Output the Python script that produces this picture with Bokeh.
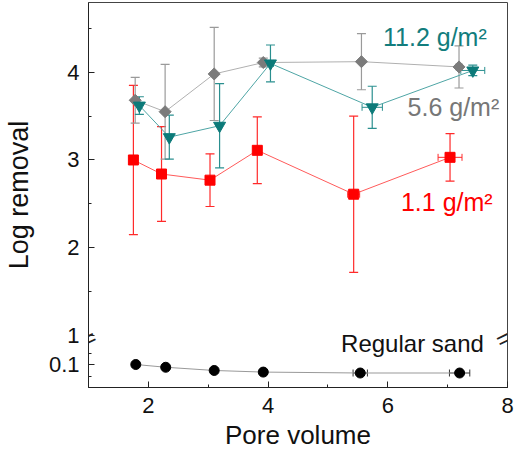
import math
from bokeh.plotting import figure
from bokeh.models import (ColumnDataSource, Range1d, Whisker, TeeHead, Label,
                          FixedTicker, SingleIntervalTicker)
from bokeh.embed import file_html
from bokeh.resources import INLINE

FONT = "Liberation Sans"

# ---------------- data ----------------
# 1.1 g/m2 (red squares)
x_red = [1.75, 2.22, 3.03, 3.82, 5.43, 7.04]
y_red = [3.00, 2.84, 2.77, 3.11, 2.61, 3.03]
ey_red = [0.85, 0.54, 0.30, 0.38, 0.89, 0.27]
ex_red = [0.00, 0.00, 0.00, 0.05, 0.10, 0.20]

# 5.6 g/m2 (gray diamonds)
x_gray = [1.78, 2.28, 3.10, 3.92, 5.56, 7.19]
y_gray = [3.68, 3.55, 3.98, 4.11, 4.12, 4.06]
ey_gray = [0.26, 0.54, 0.53, 0.05, 0.32, 0.24]
ex_gray = [0.00, 0.00, 0.00, 0.00, 0.00, 0.05]

# 11.2 g/m2 (teal down-triangles)
x_teal = [1.85, 2.35, 3.19, 4.04, 5.74, 7.42]
y_teal = [3.62, 3.26, 3.39, 4.10, 3.60, 4.02]
ey_teal = [0.10, 0.25, 0.48, 0.21, 0.24, 0.06]
ex_teal = [0.03, 0.03, 0.03, 0.05, 0.17, 0.20]

# Regular sand (black circles, lower axis segment)
x_sand = [1.79, 2.29, 3.10, 3.92, 5.54, 7.20]
y_sand = [0.100, 0.088, 0.074, 0.067, 0.063, 0.063]
ex_sand = [0.00, 0.00, 0.00, 0.00, 0.12, 0.17]

upper_ticks = [1, 2, 3, 4]
upper_minor = [1.5, 2.5, 3.5, 4.5]
lower_ticks = [0.1]
lower_minor = [0.05, 0.15]

series_labels = ["1.1 g/m\u00b2", "5.6 g/m\u00b2", "11.2 g/m\u00b2", "Regular sand"]

# ---------------- axis layout ----------------
X_START, X_END = 1, 8
Y_BOT, Y_TOP = 0.408, 4.794      # upper segment scale (frame spans whole height)
LOW_START, LOW_END = 0.0, 1.674  # lower segment scale ("low" range)


def low_pos(v):
    return round(Y_BOT + (v - LOW_START) * (Y_TOP - Y_BOT) / (LOW_END - LOW_START), 4)


p = figure(width=516, height=457, output_backend="svg", toolbar_location=None,
           x_range=Range1d(X_START, X_END), y_range=Range1d(Y_BOT, Y_TOP),
           min_border_left=87, min_border_right=9, min_border_top=2,
           min_border_bottom=70)
p.extra_y_ranges = {"low": Range1d(LOW_START, LOW_END)}
p.background_fill_color = "white"
p.border_fill_color = "white"
p.outline_line_color = "#444444"
p.outline_line_width = 1
p.xgrid.visible = False
p.ygrid.visible = False

# x axis
xa = p.xaxis[0]
xa.ticker = SingleIntervalTicker(interval=2, num_minor_ticks=2)
xa.axis_label = "Pore volume"
# y axis (broken)
ya = p.yaxis[0]
major = [low_pos(v) for v in lower_ticks] + upper_ticks
minor = [low_pos(v) for v in lower_minor] + upper_minor
ya.ticker = FixedTicker(ticks=major, minor_ticks=minor)
overrides = {low_pos(v): str(v) for v in lower_ticks}
overrides.update({t: str(t) for t in upper_ticks})
ya.major_label_overrides = overrides
ya.axis_label = "Log removal"

for ax in (xa, ya):
    ax.major_tick_in = 6
    ax.major_tick_out = 0
    ax.minor_tick_in = 3
    ax.minor_tick_out = 0
    ax.axis_line_color = "#222222"
    ax.major_tick_line_color = "#222222"
    ax.minor_tick_line_color = "#222222"
    ax.major_label_text_font = FONT
    ax.major_label_text_font_size = "22px"
    ax.major_label_text_color = "#111111"
    ax.major_label_standoff = 9
    ax.axis_label_text_font = FONT
    ax.axis_label_text_font_style = "normal"
    ax.axis_label_text_color = "#111111"

xa.major_label_standoff = 10
xa.axis_label_text_font_size = "26px"
xa.axis_label_standoff = 4
ya.axis_label_text_font_size = "27px"
ya.axis_label_standoff = 12


def vwhisk(x, y, e, color, width=1.2, rname="default"):
    src = ColumnDataSource(dict(base=x,
                                lower=[a - b for a, b in zip(y, e)],
                                upper=[a + b for a, b in zip(y, e)]))
    w = Whisker(source=src, base="base", lower="lower", upper="upper",
                dimension="height", line_color=color, line_width=width,
                upper_head=TeeHead(size=9, line_color=color, line_width=width),
                lower_head=TeeHead(size=9, line_color=color, line_width=width),
                y_range_name=rname)
    p.add_layout(w)


def hwhisk(x, y, e, color, width=1.0, rname="default"):
    pts = [(a, b, c) for a, b, c in zip(x, y, e) if c > 0]
    if not pts:
        return
    src = ColumnDataSource(dict(base=[q[1] for q in pts],
                                lower=[q[0] - q[2] for q in pts],
                                upper=[q[0] + q[2] for q in pts]))
    w = Whisker(source=src, base="base", lower="lower", upper="upper",
                dimension="width", line_color=color, line_width=width,
                upper_head=TeeHead(size=7, line_color=color, line_width=width),
                lower_head=TeeHead(size=7, line_color=color, line_width=width),
                y_range_name=rname)
    p.add_layout(w)


RED, RED_LINE = "#ff0000", "#ff5a5a"
GRAY, GRAY_LINE, GRAY_ERR = "#7b7b7b", "#b0b0b0", "#9a9a9a"
TEAL, TEAL_LINE, TEAL_ERR = "#0c7a79", "#4ea5a5", "#2a8f8f"

# red series
vwhisk(x_red, y_red, ey_red, "#ff2a2a")
hwhisk(x_red, y_red, ex_red, "#ff2a2a")
p.line(x_red, y_red, line_color=RED_LINE, line_width=1)
p.scatter(x_red, y_red, marker="square", size=10, fill_color=RED, line_color=RED)

# gray series
vwhisk(x_gray, y_gray, ey_gray, GRAY_ERR)
hwhisk(x_gray, y_gray, ex_gray, GRAY_ERR)
p.line(x_gray, y_gray, line_color=GRAY_LINE, line_width=1)
p.scatter(x_gray, y_gray, marker="square", angle=math.pi / 4, size=8.5,
          fill_color=GRAY, line_color=GRAY)

# teal series
vwhisk(x_teal, y_teal, ey_teal, TEAL_ERR)
hwhisk(x_teal, y_teal, ex_teal, TEAL_ERR)
p.line(x_teal, y_teal, line_color=TEAL_LINE, line_width=1)
p.scatter(x_teal, y_teal, marker="inverted_triangle", size=12,
          fill_color=TEAL, line_color=TEAL)

# regular sand (lower segment)
hwhisk(x_sand, y_sand, ex_sand, "#333333", rname="low")
p.line(x_sand, y_sand, line_color="#999999", line_width=1, y_range_name="low")
p.scatter(x_sand, y_sand, marker="circle", size=10, fill_color="black",
          line_color="black", y_range_name="low")


# series labels
def lab(x, y, text, color, rname="default", size="25px"):
    p.add_layout(Label(x=x, y=y, text=text, text_color=color, text_font=FONT,
                       text_font_size=size, text_align="left",
                       text_baseline="alphabetic", y_range_name=rname))


lab(6.22, 2.52, series_labels[0], "#ff0000")
lab(6.33, 3.60, series_labels[1], "#777777")
lab(5.92, 4.40, series_labels[2], "#127d7d")
lab(5.22, 0.19, series_labels[3], "#111111", rname="low", size="24px")

# axis-break marks
for bx in (X_START, X_END - 0.07):
    p.add_layout(Label(x=bx, y=0.965, text="=", angle=0.45, text_align="center",
                       text_baseline="middle", text_font=FONT,
                       text_font_size="24px", text_color="#222222"))

open("out.html", "w").write(file_html(p, INLINE))
